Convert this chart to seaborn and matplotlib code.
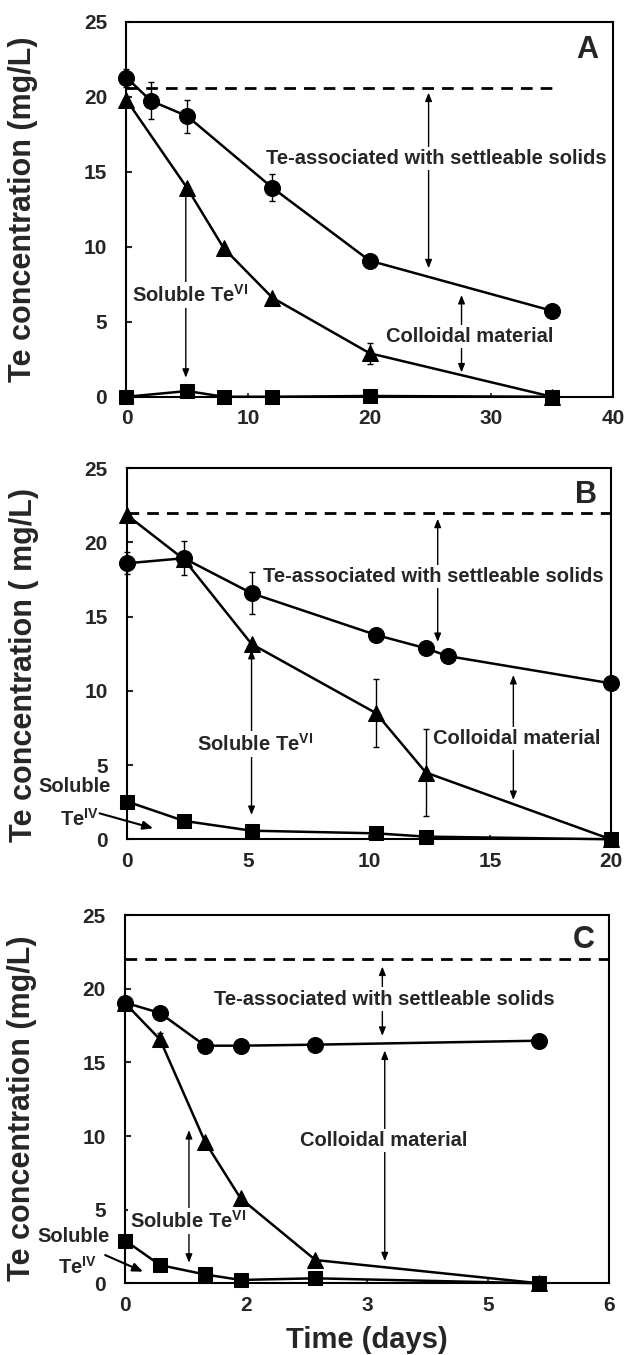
import matplotlib
matplotlib.use("Agg")
import matplotlib.pyplot as plt
import seaborn as sns

sns.set_theme(style="ticks")
plt.rcParams['font.family'] = ['Liberation Sans', 'DejaVu Sans']
plt.rcParams['font.weight'] = 'bold'
plt.rcParams['mathtext.default'] = 'regular'

# ---------------- data ----------------
# Panel A
a_circ_x = [0, 2, 5, 12, 20, 35]
a_circ_y = [21.27, 19.73, 18.7, 13.93, 9.07, 5.73]
a_circ_err = [0.6, 1.25, 1.1, 0.9, 0.0, 0.0]
a_tri_x = [0, 5, 8, 12, 20, 35]
a_tri_y = [19.78, 13.9, 9.9, 6.6, 2.9, 0.0]
a_tri_err = [0.0, 0.0, 0.0, 0.0, 0.7, 0.0]
a_sq_x = [0, 5, 8, 12, 20, 35]
a_sq_y = [0.0, 0.38, 0.0, 0.0, 0.05, 0.0]
a_total = 20.55

# Panel B
b_circ_x = [0, 2.34, 5.14, 10.29, 12.35, 13.25, 20]
b_circ_y = [18.6, 18.94, 16.58, 13.77, 12.87, 12.35, 10.51]
b_circ_err = [0.75, 1.15, 1.4, 0.0, 0.0, 0.0, 0.0]
b_tri_x = [0, 2.34, 5.14, 10.29, 12.35, 20]
b_tri_y = [21.83, 18.87, 13.16, 8.5, 4.5, 0.0]
b_tri_err = [0.0, 0.0, 0.0, 2.3, 2.9, 0.0]
b_sq_x = [0, 2.34, 5.14, 10.29, 12.35, 20]
b_sq_y = [2.54, 1.24, 0.58, 0.4, 0.18, 0.0]
b_total = 21.97

# Panel C
c_x = [0, 0.43, 0.99, 1.43, 2.36, 5.14]
c_circ_y = [19.05, 18.35, 16.13, 16.13, 16.2, 16.47]
c_circ_err = [0.3, 0.0, 0.0, 0.0, 0.0, 0.0]
c_tri_y = [19.0, 16.56, 9.6, 5.77, 1.58, 0.0]
c_tri_err = [0.0, 0.4, 0.0, 0.0, 0.0, 0.0]
c_sq_y = [2.9, 1.24, 0.6, 0.23, 0.34, 0.0]
c_total = 22.0

y_ticks = [0, 5, 10, 15, 20, 25]
a_xticks = [0, 10, 20, 30, 40]
b_xticks = [0, 5, 10, 15, 20]
c_xticks = [0, 1.5, 3, 4.5, 6]
c_xticklabels = ['0', '2', '3', '5', '6']

lbl_settle = 'Te-associated with settleable solids'
lbl_coll = 'Colloidal material'
lbl_te6 = 'Soluble Te$^{VI}$'
lbl_sol = 'Soluble'
lbl_te4 = 'Te$^{IV}$'

# ---------------- figure ----------------
fig = plt.figure(figsize=(6.24, 13.55), dpi=100)
axA = fig.add_axes([0.2027, 0.7072, 0.7793, 0.2768])
axB = fig.add_axes([0.2040, 0.3806, 0.7748, 0.2738])
axC = fig.add_axes([0.2008, 0.0529, 0.7748, 0.2718])

TICK_FS = 15
ANN_FS = 14.5
LABEL_FS = 22
DASH = (0, (4.2, 2.9))


def draw_series(ax, x, y, marker, ms, err=None):
    sns.lineplot(x=x, y=y, ax=ax, color='black', linewidth=1.8, marker=marker,
                 markersize=ms, markeredgecolor='black', markerfacecolor='black',
                 sort=False, clip_on=False, zorder=4, legend=False)
    if err is not None:
        ax.errorbar(x, y, yerr=err, fmt='none', ecolor='black', elinewidth=1.0,
                    capsize=2.5, capthick=1.0, zorder=4, clip_on=False)


def darrow(ax, x, y0, y1):
    ax.annotate('', xy=(x, y1), xytext=(x, y0),
                arrowprops=dict(arrowstyle='<|-|>,head_length=0.5,head_width=0.2',
                                mutation_scale=10, lw=1.0, color='black',
                                shrinkA=0, shrinkB=0), zorder=2)


def label(ax, x, y, s):
    ax.text(x, y, s, ha='center', va='center', fontsize=ANN_FS, fontweight='bold',
            zorder=3, bbox=dict(facecolor='white', edgecolor='none', pad=1.5))


def style_axes(ax, xlim, xticks, xticklabels=None):
    ax.set_xlim(*xlim)
    ax.set_ylim(0, 25)
    ax.set_yticks(y_ticks)
    ax.set_xticks(xticks)
    if xticklabels is not None:
        ax.set_xticklabels(xticklabels)
    for sp in ax.spines.values():
        sp.set_linewidth(1.5)
        sp.set_color('black')
        sp.set_visible(True)
    ax.tick_params(axis='y', direction='in', length=4.5, width=1.5, pad=14,
                   labelsize=TICK_FS)
    ax.tick_params(axis='x', direction='in', length=3, width=1.2, pad=9,
                   labelsize=TICK_FS)
    for t in ax.get_xticklabels() + ax.get_yticklabels():
        t.set_fontweight('bold')


# ---------- Panel A ----------
ax = axA
ax.plot([0, 35], [a_total, a_total], color='black', lw=2.0, ls=DASH, zorder=1)
draw_series(ax, a_sq_x, a_sq_y, 's', 9.5)
draw_series(ax, a_tri_x, a_tri_y, '^', 11, a_tri_err)
draw_series(ax, a_circ_x, a_circ_y, 'o', 11.5, a_circ_err)
darrow(ax, 24.85, 20.27, 8.56)
label(ax, 25.5, 15.85, lbl_settle)
darrow(ax, 27.56, 6.78, 1.62)
label(ax, 28.25, 4.04, lbl_coll)
darrow(ax, 4.88, 14.33, 1.27)
label(ax, 5.2, 6.78, lbl_te6)
style_axes(ax, (0, 40), a_xticks)
ax.text(0.947, 0.925, 'A', transform=ax.transAxes, ha='center', va='center',
        fontsize=22, fontweight='bold')
ax.set_ylabel('Te concentration (mg/L)', fontsize=LABEL_FS, fontweight='bold')
ax.yaxis.set_label_coords(-0.213, 0.5)
ax.yaxis.label.set_va('center')
ax.set_xlabel('')

# ---------- Panel B ----------
ax = axB
ax.plot([0, 20], [b_total, b_total], color='black', lw=2.0, ls=DASH, zorder=1)
draw_series(ax, b_sq_x, b_sq_y, 's', 9.5)
draw_series(ax, b_tri_x, b_tri_y, '^', 11, b_tri_err)
draw_series(ax, b_circ_x, b_circ_y, 'o', 11.5, b_circ_err)
darrow(ax, 12.84, 21.6, 13.3)
label(ax, 12.67, 17.7, lbl_settle)
darrow(ax, 15.97, 11.07, 2.65)
label(ax, 16.1, 6.8, lbl_coll)
darrow(ax, 5.14, 12.76, 1.64)
label(ax, 5.27, 6.4, lbl_te6)
ax.text(-2.2, 3.55, lbl_sol, ha='center', va='center', fontsize=ANN_FS, fontweight='bold')
ax.text(-1.98, 1.35, lbl_te4, ha='center', va='center', fontsize=ANN_FS, fontweight='bold')
ax.annotate('', xy=(1.07, 0.74), xytext=(-1.15, 1.75),
            arrowprops=dict(arrowstyle='-|>,head_length=0.6,head_width=0.25',
                            mutation_scale=10, lw=1.5, color='black',
                            shrinkA=0, shrinkB=0), annotation_clip=False)
style_axes(ax, (0, 20), b_xticks)
ax.text(0.949, 0.928, 'B', transform=ax.transAxes, ha='center', va='center',
        fontsize=22, fontweight='bold')
ax.set_ylabel('Te concentration ( mg/L)', fontsize=LABEL_FS, fontweight='bold')
ax.yaxis.set_label_coords(-0.213, 0.47)
ax.yaxis.label.set_va('center')
ax.set_xlabel('')

# ---------- Panel C ----------
ax = axC
ax.plot([0, 6], [c_total, c_total], color='black', lw=2.0, ls=DASH, zorder=1)
draw_series(ax, c_x, c_sq_y, 's', 9.5)
draw_series(ax, c_x, c_tri_y, '^', 11, c_tri_err)
draw_series(ax, c_x, c_circ_y, 'o', 11.5, c_circ_err)
darrow(ax, 3.19, 21.5, 16.8)
label(ax, 3.22, 19.3, lbl_settle)
darrow(ax, 3.22, 15.8, 1.5)
label(ax, 3.21, 9.7, lbl_coll)
darrow(ax, 0.79, 10.4, 1.4)
label(ax, 0.78, 4.25, lbl_te6)
ax.text(-0.64, 3.17, lbl_sol, ha='center', va='center', fontsize=ANN_FS, fontweight='bold')
ax.text(-0.59, 1.13, lbl_te4, ha='center', va='center', fontsize=ANN_FS, fontweight='bold')
ax.annotate('', xy=(0.22, 0.79), xytext=(-0.25, 1.92),
            arrowprops=dict(arrowstyle='-|>,head_length=0.6,head_width=0.25',
                            mutation_scale=10, lw=1.5, color='black',
                            shrinkA=0, shrinkB=0), annotation_clip=False)
style_axes(ax, (0, 6), c_xticks, c_xticklabels)
ax.text(0.949, 0.932, 'C', transform=ax.transAxes, ha='center', va='center',
        fontsize=22, fontweight='bold')
ax.set_ylabel('Te concentration (mg/L)', fontsize=LABEL_FS, fontweight='bold')
ax.yaxis.set_label_coords(-0.213, 0.476)
ax.yaxis.label.set_va('center')
ax.set_xlabel('Time (days)', fontsize=21, fontweight='bold')
ax.xaxis.set_label_coords(0.5, -0.154)
ax.xaxis.label.set_va('center')

fig.savefig('out.png', dpi=100)
